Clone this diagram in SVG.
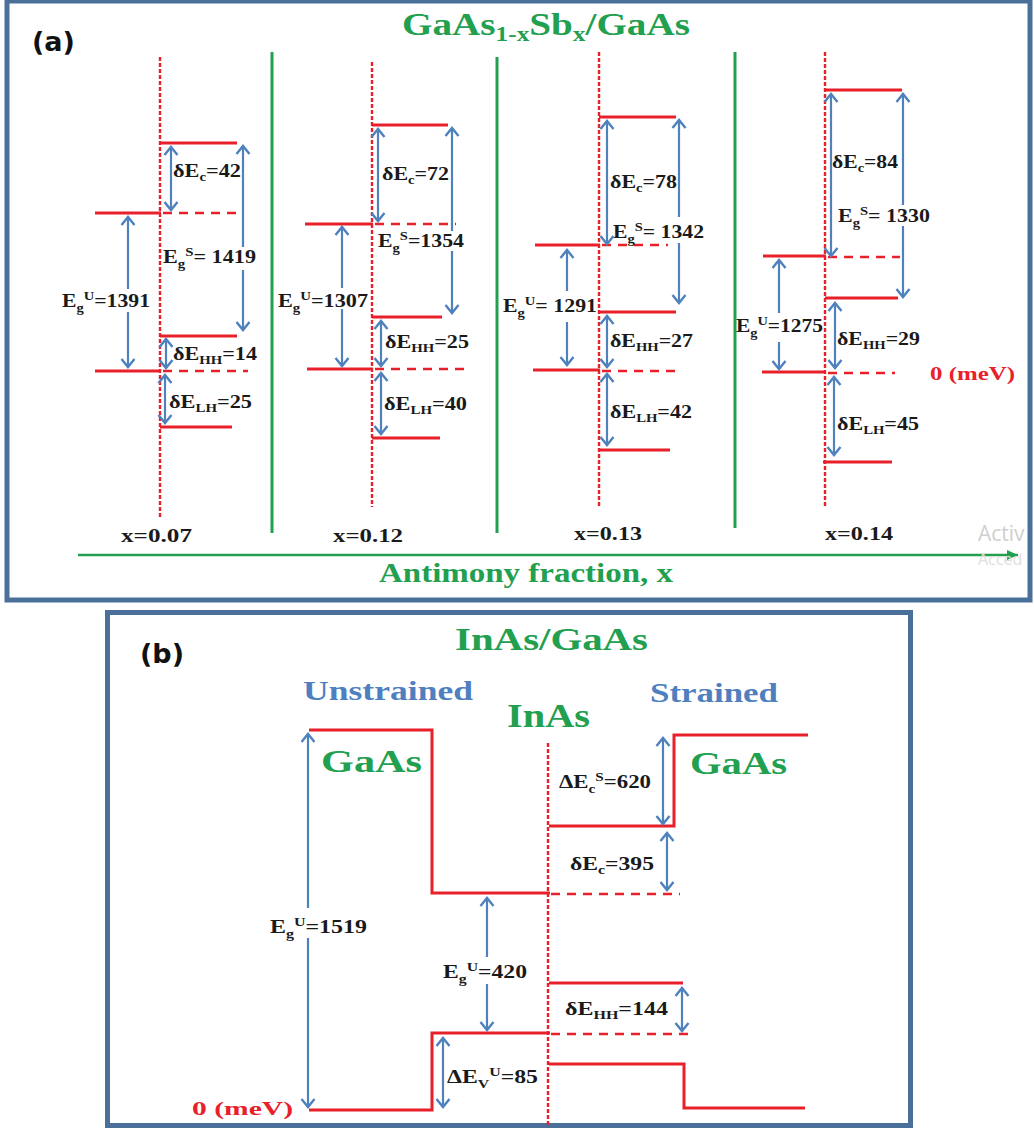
<svg xmlns="http://www.w3.org/2000/svg" width="1034" height="1129" viewBox="0 0 1034 1129">
<defs>
<marker id="ah" viewBox="-10 -8 12 16" refX="0" refY="0" markerWidth="12" markerHeight="16" markerUnits="userSpaceOnUse" orient="auto-start-reverse">
<path d="M-8,-6.5 L0,0 L-8,6.5" fill="none" stroke="#4f81bd" stroke-width="2.4"/>
</marker>
<marker id="gh" viewBox="-12 -7 13 14" refX="0" refY="0" markerWidth="13" markerHeight="14" markerUnits="userSpaceOnUse" orient="auto">
<path d="M-11,-5 L0,0 L-11,5 Z" fill="#22a050"/>
</marker>
</defs>
<style>
.frame{fill:none;stroke:#4a7099;stroke-width:5}
.lv{stroke:#e8202a;stroke-width:3;fill:none}
.ds{stroke:#e8202a;stroke-width:2.5;stroke-dasharray:9,7;fill:none}
.dt{stroke:#e8202a;stroke-width:2.4;stroke-dasharray:4,2;fill:none}
.sep{stroke:#22a050;stroke-width:3}
.a2{stroke:#4f81bd;stroke-width:2.2;fill:none;marker-start:url(#ah);marker-end:url(#ah)}
.ae{stroke:#4f81bd;stroke-width:2.2;fill:none;marker-end:url(#ah)}
.as{stroke:#4f81bd;stroke-width:2.2;fill:none;marker-start:url(#ah)}
.lbl{font-family:"Liberation Serif","Times New Roman",serif;font-weight:bold;font-size:18px;fill:#1a1a1a}
.sb{font-size:12px}
.grn{font-family:"Liberation Serif","Times New Roman",serif;font-weight:bold;fill:#22a050}
.blu{font-family:"Liberation Serif","Times New Roman",serif;font-weight:bold;fill:#4f7fbf}
.red{font-family:"Liberation Serif","Times New Roman",serif;font-weight:bold;fill:#e8202a;font-size:19px}
.pl{font-family:"DejaVu Sans",sans-serif;font-weight:bold;font-size:27px;fill:#111}
</style>
<rect fill="#ffffff" x="0" y="0" width="1034" height="1129"/>

<g id="panel-a">
<rect class="frame" x="7" y="1" width="1023" height="599"/>
<text class="pl" x="32" y="51">(a)</text>
<text class="grn" x="402" y="35" font-size="31" textLength="288" lengthAdjust="spacingAndGlyphs">GaAs<tspan font-size="20" dy="6">1-x</tspan><tspan dy="-6">Sb</tspan><tspan font-size="20" dy="6">x</tspan><tspan dy="-6">/GaAs</tspan></text>
<line class="sep" x1="272" y1="52" x2="272" y2="533"/>
<line class="sep" x1="497" y1="57" x2="497" y2="533"/>
<line class="sep" x1="735" y1="52" x2="735" y2="528"/>
<line x1="78" y1="555" x2="1018" y2="555" stroke="#22a050" stroke-width="2.5" marker-end="url(#gh)"/>
<text class="grn" x="379" y="582" font-size="27" textLength="294" lengthAdjust="spacingAndGlyphs">Antimony fraction, x</text>
<text x="978" y="541" font-family="Open Sans,sans-serif" font-size="21" fill="#cfcfcf">Activ</text>
<text x="978" y="565" font-family="Open Sans,sans-serif" font-size="16" fill="#e0e0e0">Acced</text>
<text class="red" x="930" y="380" textLength="85" lengthAdjust="spacingAndGlyphs">0 (meV)</text>
</g>

<g id="x007">
<line class="dt" x1="160" y1="57" x2="160" y2="518"/>
<line class="lv" x1="160" y1="143" x2="237" y2="143"/>
<line class="lv" x1="95" y1="213" x2="161" y2="213"/>
<line class="ds" x1="163" y1="213" x2="243" y2="213"/>
<line class="lv" x1="160" y1="336" x2="237" y2="336"/>
<line class="lv" x1="95" y1="371" x2="161" y2="371"/>
<line class="ds" x1="163" y1="371" x2="248" y2="371"/>
<line class="lv" x1="160" y1="427" x2="232" y2="427"/>
<text class="lbl" x="173" y="177" textLength="68" lengthAdjust="spacingAndGlyphs">δE<tspan class="sb" dy="4">c</tspan><tspan dy="-4">=42</tspan></text>
<text class="lbl" x="163" y="263" textLength="93" lengthAdjust="spacingAndGlyphs">E<tspan class="sb" dy="5">g</tspan><tspan class="sb" dy="-12">S</tspan><tspan dy="7">= 1419</tspan></text>
<text class="lbl" x="62" y="307" textLength="88" lengthAdjust="spacingAndGlyphs">E<tspan class="sb" dy="5">g</tspan><tspan class="sb" dy="-12">U</tspan><tspan dy="7">=1391</tspan></text>
<text class="lbl" x="173" y="360" textLength="84" lengthAdjust="spacingAndGlyphs">δE<tspan class="sb" dy="4">HH</tspan><tspan dy="-4">=14</tspan></text>
<text class="lbl" x="169" y="408" textLength="83" lengthAdjust="spacingAndGlyphs">δE<tspan class="sb" dy="4">LH</tspan><tspan dy="-4">=25</tspan></text>
<text class="lbl" x="121" y="542" textLength="71" lengthAdjust="spacingAndGlyphs">x=0.07</text>
</g>

<g id="x012">
<line class="dt" x1="372" y1="62" x2="372" y2="507"/>
<line class="lv" x1="372" y1="125" x2="448" y2="125"/>
<line class="lv" x1="305" y1="224" x2="373" y2="224"/>
<line class="ds" x1="375" y1="224" x2="456" y2="224"/>
<line class="lv" x1="372" y1="317" x2="442" y2="317"/>
<line class="lv" x1="307" y1="369" x2="373" y2="369"/>
<line class="ds" x1="375" y1="369" x2="465" y2="369"/>
<line class="lv" x1="372" y1="438" x2="440" y2="438"/>
<text class="lbl" x="382" y="180" textLength="67" lengthAdjust="spacingAndGlyphs">δE<tspan class="sb" dy="4">c</tspan><tspan dy="-4">=72</tspan></text>
<text class="lbl" x="378" y="247" textLength="86" lengthAdjust="spacingAndGlyphs">E<tspan class="sb" dy="5">g</tspan><tspan class="sb" dy="-12">S</tspan><tspan dy="7">=1354</tspan></text>
<text class="lbl" x="278" y="307" textLength="90" lengthAdjust="spacingAndGlyphs">E<tspan class="sb" dy="5">g</tspan><tspan class="sb" dy="-12">U</tspan><tspan dy="7">=1307</tspan></text>
<text class="lbl" x="385" y="348" textLength="84" lengthAdjust="spacingAndGlyphs">δE<tspan class="sb" dy="4">HH</tspan><tspan dy="-4">=25</tspan></text>
<text class="lbl" x="384" y="410" textLength="83" lengthAdjust="spacingAndGlyphs">δE<tspan class="sb" dy="4">LH</tspan><tspan dy="-4">=40</tspan></text>
<text class="lbl" x="333" y="542" textLength="70" lengthAdjust="spacingAndGlyphs">x=0.12</text>
</g>

<g id="x013">
<line class="dt" x1="599" y1="52" x2="599" y2="507"/>
<line class="lv" x1="599" y1="117" x2="676" y2="117"/>
<line class="lv" x1="535" y1="245" x2="600" y2="245"/>
<line class="ds" x1="602" y1="245" x2="668" y2="245"/>
<line class="lv" x1="599" y1="312" x2="676" y2="312"/>
<line class="lv" x1="533" y1="370" x2="600" y2="370"/>
<line class="ds" x1="602" y1="371" x2="682" y2="371"/>
<line class="lv" x1="599" y1="450" x2="670" y2="450"/>
<text class="lbl" x="610" y="188" textLength="67" lengthAdjust="spacingAndGlyphs">δE<tspan class="sb" dy="4">c</tspan><tspan dy="-4">=78</tspan></text>
<text class="lbl" x="613" y="238" textLength="91" lengthAdjust="spacingAndGlyphs">E<tspan class="sb" dy="5">g</tspan><tspan class="sb" dy="-12">S</tspan><tspan dy="7">= 1342</tspan></text>
<text class="lbl" x="503" y="312" textLength="94" lengthAdjust="spacingAndGlyphs">E<tspan class="sb" dy="5">g</tspan><tspan class="sb" dy="-12">U</tspan><tspan dy="7">= 1291</tspan></text>
<text class="lbl" x="610" y="347" textLength="83" lengthAdjust="spacingAndGlyphs">δE<tspan class="sb" dy="4">HH</tspan><tspan dy="-4">=27</tspan></text>
<text class="lbl" x="610" y="418" textLength="82" lengthAdjust="spacingAndGlyphs">δE<tspan class="sb" dy="4">LH</tspan><tspan dy="-4">=42</tspan></text>
<text class="lbl" x="574" y="540" textLength="68" lengthAdjust="spacingAndGlyphs">x=0.13</text>
</g>

<g id="x014">
<line class="dt" x1="825" y1="52" x2="825" y2="508"/>
<line class="lv" x1="825" y1="90" x2="902" y2="90"/>
<line class="lv" x1="763" y1="256" x2="826" y2="256"/>
<line class="ds" x1="828" y1="257" x2="900" y2="257"/>
<line class="lv" x1="825" y1="298" x2="898" y2="298"/>
<line class="lv" x1="762" y1="372" x2="826" y2="372"/>
<line class="ds" x1="828" y1="373" x2="895" y2="373"/>
<line class="lv" x1="823" y1="462" x2="892" y2="462"/>
<text class="lbl" x="832" y="168" textLength="66" lengthAdjust="spacingAndGlyphs">δE<tspan class="sb" dy="4">c</tspan><tspan dy="-4">=84</tspan></text>
<text class="lbl" x="838" y="222" textLength="92" lengthAdjust="spacingAndGlyphs">E<tspan class="sb" dy="5">g</tspan><tspan class="sb" dy="-12">S</tspan><tspan dy="7">= 1330</tspan></text>
<text class="lbl" x="736" y="332" textLength="87" lengthAdjust="spacingAndGlyphs">E<tspan class="sb" dy="5">g</tspan><tspan class="sb" dy="-12">U</tspan><tspan dy="7">=1275</tspan></text>
<text class="lbl" x="837" y="345" textLength="83" lengthAdjust="spacingAndGlyphs">δE<tspan class="sb" dy="4">HH</tspan><tspan dy="-4">=29</tspan></text>
<text class="lbl" x="837" y="430" textLength="82" lengthAdjust="spacingAndGlyphs">δE<tspan class="sb" dy="4">LH</tspan><tspan dy="-4">=45</tspan></text>
<text class="lbl" x="825" y="540" textLength="68" lengthAdjust="spacingAndGlyphs">x=0.14</text>
</g>

<g id="panel-b">
<rect class="frame" x="107.5" y="612.5" width="803" height="513"/>
<text class="pl" x="140" y="663">(b)</text>
<text class="grn" x="455" y="650" font-size="32" textLength="193" lengthAdjust="spacingAndGlyphs">InAs/GaAs</text>
<text class="blu" x="303" y="700" font-size="27" textLength="170" lengthAdjust="spacingAndGlyphs">Unstrained</text>
<text class="blu" x="650" y="702" font-size="27" textLength="128" lengthAdjust="spacingAndGlyphs">Strained</text>
<text class="grn" x="507" y="727" font-size="33" textLength="83" lengthAdjust="spacingAndGlyphs">InAs</text>
<text class="grn" x="321" y="772" font-size="32" textLength="101" lengthAdjust="spacingAndGlyphs">GaAs</text>
<text class="grn" x="690" y="774" font-size="32" textLength="97" lengthAdjust="spacingAndGlyphs">GaAs</text>
<text class="red" x="192" y="1115" textLength="101" lengthAdjust="spacingAndGlyphs" font-size="21">0 (meV)</text>
</g>

<g id="inas-gaas">
<path class="lv" d="M309,730 H432 V893 H550"/>
<path class="lv" d="M309,1110 H432 V1033 H550"/>
<line class="dt" x1="548" y1="743" x2="548" y2="1125"/>
<path class="lv" d="M549,826 H674 V735 H808"/>
<line class="ds" x1="551" y1="894" x2="680" y2="894"/>
<line class="lv" x1="549" y1="983" x2="683" y2="983"/>
<line class="ds" x1="551" y1="1034" x2="692" y2="1034"/>
<path class="lv" d="M549,1064 H684 V1108 H805"/>
<text class="lbl" x="270" y="933" textLength="97" lengthAdjust="spacingAndGlyphs">E<tspan class="sb" dy="5">g</tspan><tspan class="sb" dy="-12">U</tspan><tspan dy="7">=1519</tspan></text>
<text class="lbl" x="443" y="978" textLength="84" lengthAdjust="spacingAndGlyphs">E<tspan class="sb" dy="5">g</tspan><tspan class="sb" dy="-12">U</tspan><tspan dy="7">=420</tspan></text>
<text class="lbl" x="447" y="1083" textLength="91" lengthAdjust="spacingAndGlyphs">ΔE<tspan class="sb" dy="5">V</tspan><tspan class="sb" dy="-12">U</tspan><tspan dy="7">=85</tspan></text>
<text class="lbl" x="559" y="788" textLength="92" lengthAdjust="spacingAndGlyphs">ΔE<tspan class="sb" dy="5">c</tspan><tspan class="sb" dy="-12">S</tspan><tspan dy="7">=620</tspan></text>
<text class="lbl" x="570" y="870" textLength="84" lengthAdjust="spacingAndGlyphs">δE<tspan class="sb" dy="4">c</tspan><tspan dy="-4">=395</tspan></text>
<text class="lbl" x="565" y="1015" textLength="103" lengthAdjust="spacingAndGlyphs">δE<tspan class="sb" dy="4">HH</tspan><tspan dy="-4">=144</tspan></text>
</g>

<g id="connectors">
<line class="a2" x1="171" y1="147" x2="171" y2="210"/>
<line class="as" x1="243" y1="146" x2="243" y2="247"/>
<line class="ae" x1="243" y1="270" x2="243" y2="330"/>
<line class="as" x1="128" y1="217" x2="128" y2="289"/>
<line class="ae" x1="128" y1="312" x2="128" y2="367"/>
<line class="a2" x1="166" y1="339" x2="166" y2="368"/>
<line class="a2" x1="165" y1="375" x2="165" y2="423"/>

<line class="a2" x1="378" y1="129" x2="378" y2="221"/>
<line class="as" x1="452" y1="128" x2="452" y2="231"/>
<line class="ae" x1="452" y1="251" x2="452" y2="313"/>
<line class="as" x1="342" y1="227" x2="342" y2="288"/>
<line class="ae" x1="342" y1="309" x2="342" y2="366"/>
<line class="a2" x1="381" y1="321" x2="381" y2="366"/>
<line class="a2" x1="381" y1="373" x2="381" y2="434"/>

<line class="a2" x1="607" y1="121" x2="607" y2="244"/>
<line class="as" x1="679" y1="120" x2="679" y2="217"/>
<line class="ae" x1="679" y1="243" x2="679" y2="303"/>
<line class="as" x1="567" y1="250" x2="567" y2="291"/>
<line class="ae" x1="567" y1="322" x2="567" y2="365"/>
<line class="a2" x1="607" y1="316" x2="607" y2="367"/>
<line class="a2" x1="607" y1="374" x2="607" y2="445"/>

<line class="a2" x1="831" y1="94" x2="831" y2="256"/>
<line class="as" x1="903" y1="94" x2="903" y2="205"/>
<line class="ae" x1="903" y1="226" x2="903" y2="297"/>
<line class="as" x1="779" y1="260" x2="779" y2="313"/>
<line class="ae" x1="779" y1="342" x2="779" y2="369"/>
<line class="a2" x1="835" y1="303" x2="835" y2="368"/>
<line class="a2" x1="834" y1="377" x2="834" y2="455"/>

<line class="as" x1="308" y1="734" x2="308" y2="908"/>
<line class="ae" x1="308" y1="938" x2="308" y2="1107"/>
<line class="as" x1="487" y1="898" x2="487" y2="957"/>
<line class="ae" x1="487" y1="984" x2="487" y2="1030"/>
<line class="a2" x1="443" y1="1038" x2="443" y2="1107"/>
<line class="a2" x1="663" y1="738" x2="663" y2="824"/>
<line class="a2" x1="667" y1="833" x2="667" y2="890"/>
<line class="a2" x1="682" y1="988" x2="682" y2="1031"/>
</g>
</svg>
